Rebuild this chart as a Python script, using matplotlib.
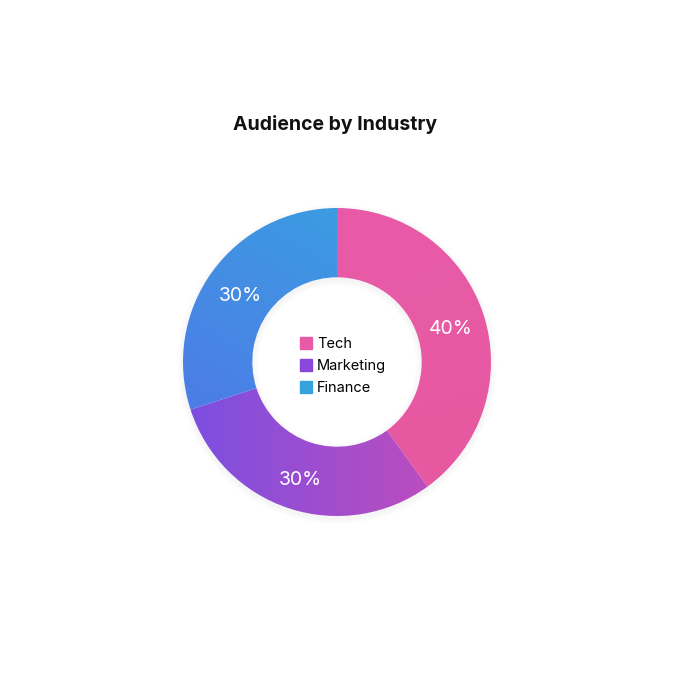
import numpy as np
import matplotlib.pyplot as plt
from matplotlib.patches import Wedge
from matplotlib.colors import to_rgb
from matplotlib.lines import Line2D

plt.rcParams['font.family'] = ['Inter', 'DejaVu Sans']

# datos
categorias = ["Tech", "Marketing", "Finance"]
valores = [40, 30, 30]
etiquetas = ["40%", "30%", "30%"]
colores_leyenda = ["#e85aa8", "#8a47da", "#36a3dc"]
# degradado por sector: (color inicio, color fin, dirección)
degradados = [
    ("#e95ba9", "#e6599f", (0.3, -1.0)),
    ("#7a4fe2", "#cc4cb6", (1.0, 0.0)),
    ("#5470e8", "#36a6e0", (0.6, 1.0)),
]

W, H = 680, 680
cx, cy, R = 337, 362, 154
r_in = 0.55

fig = plt.figure(figsize=(W / 100, H / 100), dpi=100)
ax = fig.add_axes([0, 0, 1, 1])
ax.set_aspect('equal')
ax.axis('off')

# sombra suave
for k in range(10):
    s = 1.0 + 0.004 * (k + 1)
    ax.add_patch(Wedge((0, -0.015), s, 0, 360, width=0.45 + 0.008 * (k + 1),
                       facecolor='black', alpha=0.004, lw=0, zorder=1))

def gradiente(c0, c1, d):
    n = 300
    xs = np.linspace(-1, 1, n)
    X, Y = np.meshgrid(xs, xs[::-1])
    d = np.array(d) / np.hypot(*d)
    t = (X * d[0] + Y * d[1])
    t = (t - t.min()) / (t.max() - t.min())
    a, b = np.array(to_rgb(c0)), np.array(to_rgb(c1))
    return a + (b - a) * t[..., None]

total = sum(valores)
inicio = 90
for val, etq, (c0, c1, d) in zip(valores, etiquetas, degradados):
    ang = 360 * val / total
    th1, th2 = inicio - ang, inicio
    w = Wedge((0, 0), 1, th1, th2, width=1 - r_in, facecolor='none', lw=0)
    ax.add_patch(w)
    img = ax.imshow(gradiente(c0, c1, d), extent=[-1, 1, -1, 1], zorder=2,
                    interpolation='bilinear')
    img.set_clip_path(w)
    medio = np.deg2rad((th1 + th2) / 2)
    rr = (1 + r_in) / 2
    ax.text(rr * np.cos(medio), rr * np.sin(medio) - 4 / R, etq, color='white',
            fontsize=14, ha='center', va='center', zorder=3)
    inicio = th1

ax.set_xlim(-cx / R, (W - cx) / R)
ax.set_ylim(-(H - cy) / R, cy / R)

handles = [Line2D([], [], marker='s', ls='', markersize=8, color=c) for c in colores_leyenda]
ax.legend(handles, categorias, loc='center', bbox_to_anchor=(343 / W, 1 - 366 / H),
          frameon=False, fontsize=10.5, handlelength=0.8, handletextpad=0.4,
          labelspacing=0.55)

fig.text(335 / W, 1 - 125 / H, "Audience by Industry", fontsize=14, fontweight='bold',
         ha='center', va='center', color='#111111')

fig.savefig("out.png", dpi=100, facecolor='white')
